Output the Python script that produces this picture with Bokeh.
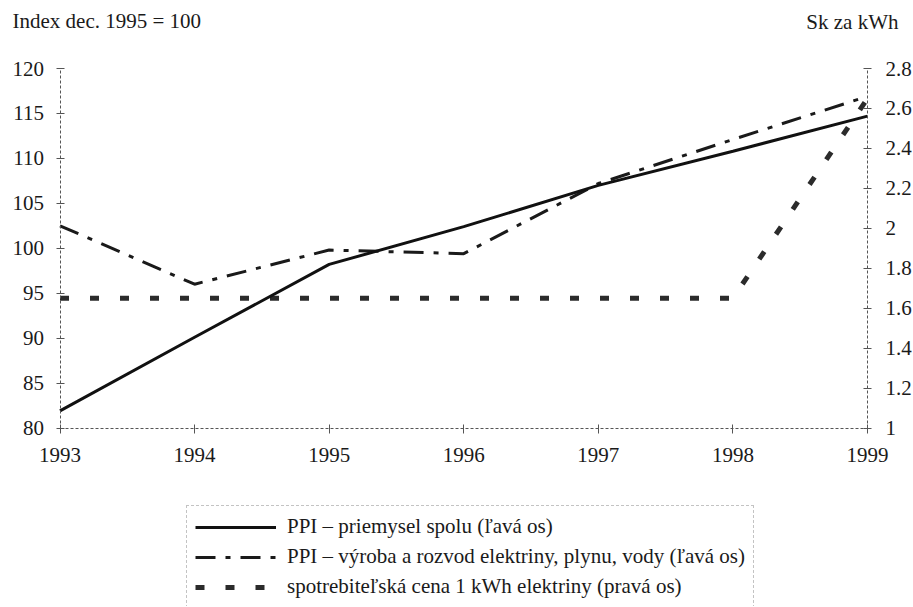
from bokeh.plotting import figure
from bokeh.models import (Range1d, LinearAxis, FixedTicker, NumeralTickFormatter,
                          BasicTickFormatter, Legend, LegendItem, Label)
from bokeh.embed import file_html
from bokeh.resources import INLINE

# ---- data -------------------------------------------------------------
years = [1993, 1994, 1995, 1996, 1997, 1998, 1999]
ppi_industry = [81.9, 90.1, 98.2, 102.4, 107.0, 110.8, 114.7]       # left axis
ppi_energy = [102.5, 96.0, 99.8, 99.4, 107.2, 112.1, 116.9]          # left axis
kwh_price = [1.65, 1.65, 1.65, 1.65, 1.65, 1.65, 2.65]               # right axis (Sk)

left_ticks = [80, 85, 90, 95, 100, 105, 110, 115, 120]
right_ticks = [1.0, 1.2, 1.4, 1.6, 1.8, 2.0, 2.2, 2.4, 2.6, 2.8]

legend_labels = [
    "PPI – priemysel spolu (ľavá os)",
    "PPI – výroba a rozvod elektriny, plynu, vody (ľavá os)",
    "spotrebiteľská cena 1 kWh elektriny (pravá os)",
]
left_title = "Index dec. 1995 = 100"
right_title = "Sk za kWh"

# ---- layout constants (pixels) ----------------------------------------
W, H = 912, 606
X0_PX, X1_PX = 59.5, 867.0      # where the first / last year sit
YT_PX, YB_PX = 68.0, 427.5      # where the top / bottom of the axes sit

FONT = "Liberation Serif"
TXT = "#1a1a1a"
AX = "#555555"

# ranges chosen so that the axes block sits where it does in the reference,
# while the frame covers the whole canvas (texts outside are not clipped)
xs = (X1_PX - X0_PX) / (years[-1] - years[0])
ly0, ly1 = left_ticks[0], left_ticks[-1]
ys = (YB_PX - YT_PX) / (ly1 - ly0)
ry0, ry1 = right_ticks[0], right_ticks[-1]
rs = (YB_PX - YT_PX) / (ry1 - ry0)

p = figure(width=W, height=H, output_backend="svg", toolbar_location=None,
           x_axis_location=None, y_axis_location=None,
           x_range=Range1d(years[0] - X0_PX / xs, years[-1] + (W - X1_PX) / xs),
           y_range=Range1d(ly0 - (H - YB_PX) / ys, ly1 + YT_PX / ys),
           min_border=0)
p.min_border_left = p.min_border_right = p.min_border_top = p.min_border_bottom = 0
p.xgrid.visible = False
p.ygrid.visible = False
p.outline_line_color = None
p.background_fill_color = "white"
p.border_fill_color = "white"

p.extra_y_ranges = {"price": Range1d(ry0 - (H - YB_PX) / rs, ry1 + YT_PX / rs)}


def style(ax, standoff):
    ax.axis_line_color = AX
    ax.axis_line_width = 1
    ax.axis_line_dash = "3 2"
    ax.major_tick_line_color = AX
    ax.major_tick_in = 4
    ax.major_tick_out = 4
    ax.minor_tick_line_color = None
    ax.major_label_text_font = FONT
    ax.major_label_text_font_size = "21px"
    ax.major_label_text_color = TXT
    ax.major_label_standoff = standoff


xaxis = LinearAxis(fixed_location=ly0, bounds=(years[0], years[-1]),
                   ticker=FixedTicker(ticks=years),
                   formatter=BasicTickFormatter(use_scientific=False))
yaxis = LinearAxis(fixed_location=years[0], bounds=(ly0, ly1),
                   ticker=FixedTicker(ticks=left_ticks))
raxis = LinearAxis(fixed_location=years[-1], y_range_name="price",
                   bounds=(ry0, ry1), ticker=FixedTicker(ticks=right_ticks),
                   formatter=NumeralTickFormatter(format="0.[0]"))
style(xaxis, 15)
style(yaxis, 12)
style(raxis, 14)
xaxis.major_tick_out = 5
p.add_layout(xaxis, "below")
p.add_layout(yaxis, "left")
p.add_layout(raxis, "right")

r3 = p.line(years, kwh_price, y_range_name="price", line_color="#2b2b2b",
            line_width=5, line_dash="9 21", line_cap="butt")
r2 = p.line(years, ppi_energy, line_color="#1a1a1a", line_width=3,
            line_dash="20 10 5 10")
r1 = p.line(years, ppi_industry, line_color="#111111", line_width=3)

legend = Legend(items=[LegendItem(label=legend_labels[0], renderers=[r1]),
                       LegendItem(label=legend_labels[1], renderers=[r2]),
                       LegendItem(label=legend_labels[2], renderers=[r3])],
                location=(186, H - 608),
                glyph_width=81, glyph_height=24, label_height=24,
                label_standoff=11, spacing=5, padding=8,
                label_text_font=FONT, label_text_font_size="21px",
                label_text_color=TXT,
                border_line_color="#888888", border_line_dash="1 2",
                border_line_width=1, background_fill_alpha=0)
p.add_layout(legend)

p.add_layout(Label(x=12, y=H - 20, x_units="screen", y_units="screen",
                   text=left_title, text_font=FONT, text_font_size="21px",
                   text_color=TXT, text_baseline="middle", text_align="left"))
p.add_layout(Label(x=898, y=H - 21, x_units="screen", y_units="screen",
                   text=right_title, text_font=FONT, text_font_size="21px",
                   text_color=TXT, text_baseline="middle", text_align="right"))

open("out.html", "w").write(file_html(p, INLINE))
